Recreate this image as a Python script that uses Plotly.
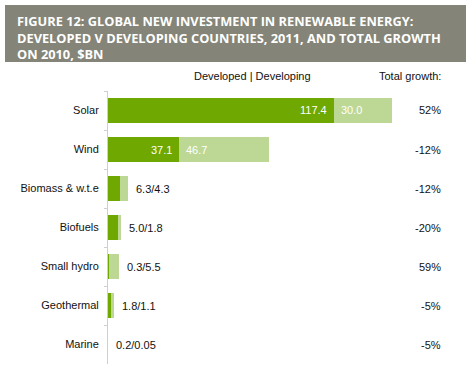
import plotly.graph_objects as go

categories = ["Solar", "Wind", "Biomass & w.t.e", "Biofuels", "Small hydro", "Geothermal", "Marine"]
developed = [117.4, 37.1, 6.3, 5.0, 0.3, 1.8, 0.2]
developing = [30.0, 46.7, 4.3, 1.8, 5.5, 1.1, 0.05]
growth = ["52%", "-12%", "-12%", "-20%", "59%", "-5%", "-5%"]

title_text = ("FIGURE 12: GLOBAL NEW INVESTMENT IN RENEWABLE ENERGY:<br>"
              "DEVELOPED V DEVELOPING COUNTRIES, 2011, AND TOTAL GROWTH<br>"
              "ON 2010, $BN")

W, H = 471, 374
DARK = "#6FA800"
LIGHT = "#BDD894"
FONT = "Liberation Sans, Arial, sans-serif"


def fmt(v):
    return f"{v:.2f}" if v < 0.1 else f"{v:.1f}"


fig = go.Figure()
fig.add_trace(go.Bar(y=categories, x=developed, orientation="h", marker_color=DARK,
                     marker_line_width=0, width=0.64, name="Developed"))
fig.add_trace(go.Bar(y=categories, x=developing, orientation="h", marker_color=LIGHT,
                     marker_line_width=0, width=0.64, name="Developing"))

ann = []
for c, d, g, gr in zip(categories, developed, developing, growth):
    if d > 20:
        ann.append(dict(x=d, y=c, xref="x", yref="y", text=fmt(d), showarrow=False,
                        xanchor="right", xshift=-5, font=dict(color="white", size=11, family=FONT)))
        ann.append(dict(x=d, y=c, xref="x", yref="y", text=fmt(g), showarrow=False,
                        xanchor="left", xshift=5, font=dict(color="white", size=11, family=FONT)))
    else:
        ann.append(dict(x=d + g, y=c, xref="x", yref="y", text=f"{fmt(d)}/{fmt(g)}", showarrow=False,
                        xanchor="left", xshift=6, font=dict(color="#111", size=11, family=FONT)))
    ann.append(dict(x=443 / W, y=c, xref="paper", yref="y", text=gr, showarrow=False,
                    xanchor="right", font=dict(color="#111", size=11, family=FONT)))

ann.append(dict(x=252 / W, y=1 - 76 / H, xref="paper", yref="paper", text="Developed | Developing",
                showarrow=False, xanchor="center", yanchor="middle",
                font=dict(color="#111", size=11, family=FONT)))
ann.append(dict(x=443 / W, y=1 - 76 / H, xref="paper", yref="paper", text="Total growth:",
                showarrow=False, xanchor="right", yanchor="middle",
                font=dict(color="#111", size=11, family=FONT)))
ann.append(dict(x=15 / W, y=1 - 37.5 / H, xref="paper", yref="paper", text=title_text,
                showarrow=False, xanchor="left", yanchor="middle", align="left",
                font=dict(color="white", size=12.8, family="Open Sans, sans-serif", weight="bold")))

fig.update_layout(
    width=W, height=H,
    margin=dict(l=0, r=0, t=0, b=0),
    paper_bgcolor="white", plot_bgcolor="white",
    barmode="stack", bargap=0.36, showlegend=False,
    annotations=ann,
    shapes=[dict(type="rect", xref="paper", yref="paper",
                 x0=5 / W, x1=466 / W, y0=1 - 62 / H, y1=1 - 5 / H,
                 fillcolor="#848578", line=dict(width=0), layer="below")],
    xaxis=dict(domain=[108 / W, 466 / W], range=[0, (466 - 108) / 1.925], automargin=False,
               showgrid=False, zeroline=False, showticklabels=False, showline=False, fixedrange=True),
    yaxis=dict(domain=[(H - 364) / H, (H - 91) / H], autorange="reversed", automargin=False,
               showgrid=False, zeroline=False, showline=True, linecolor="#CFCFCF", linewidth=1,
               ticks="outside", tickson="boundaries", ticklen=3, tickcolor="#CFCFCF",
               ticklabelstandoff=6,
               tickfont=dict(color="#111", size=11, family=FONT)),
)

fig.write_html("out.html",
               config={"displayModeBar": False, "staticPlot": True},
               post_script="document.body.style.margin='0px';document.body.style.overflow='hidden';")
